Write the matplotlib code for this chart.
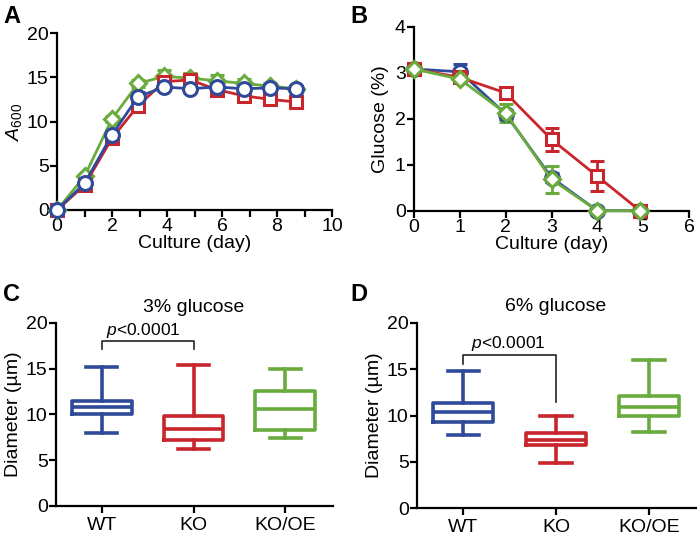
import numpy as np
import matplotlib
matplotlib.use('Agg')
import matplotlib.pyplot as plt

plt.rcParams['font.family'] = ['Liberation Sans', 'DejaVu Sans']
plt.rcParams['mathtext.fontset'] = 'custom'
plt.rcParams['mathtext.rm'] = 'Liberation Sans'
plt.rcParams['mathtext.it'] = 'Liberation Sans:italic'
plt.rcParams['font.size'] = 14

blue = '#2f4a98'
red = '#c8262c'
green = '#6aab3e'

# panel A: growth (A600)
days_a = [0, 1, 2, 2.95, 3.9, 4.85, 5.8, 6.8, 7.75, 8.7]
wt_a = [0, 3.0, 8.5, 12.8, 13.9, 13.7, 13.9, 13.7, 13.8, 13.7]
ko_a = [0, 2.8, 8.1, 11.8, 14.5, 14.7, 13.6, 12.9, 12.5, 12.2]
oe_a = [0, 3.8, 10.3, 14.3, 15.1, 14.9, 14.6, 14.3, 14.0, 13.7]
wt_a_err = [0, 0.3, 0.5, 0.5, 0.3, 0.3, 0.3, 0.3, 0.3, 0.3]
ko_a_err = [0, 0.3, 0.4, 0.4, 0.4, 0.4, 0.3, 0.3, 0.3, 0.3]
oe_a_err = [0, 0.3, 0.3, 0.4, 0.7, 0.6, 0.6, 0.5, 0.4, 0.3]

# panel B: glucose (%)
days_b = [0, 1, 2, 3, 4, 4.93]
wt_b = [3.08, 3.02, 2.10, 0.72, 0.0, 0.0]
ko_b = [3.08, 2.90, 2.56, 1.55, 0.75, 0.0]
oe_b = [3.08, 2.86, 2.12, 0.68, 0.0, 0.0]
wt_b_err = [0.05, 0.18, 0.1, 0.1, 0, 0]
ko_b_err = [0.05, 0.08, 0.08, 0.25, 0.32, 0]
oe_b_err = [0.05, 0.05, 0.2, 0.3, 0, 0]

# panels C/D: diameter boxes (whislo, q1, med, q3, whishi)
groups = ['WT', 'KO', 'KO/OE']
box_c = [[8.0, 10.0, 10.8, 11.45, 15.2],
         [6.2, 7.2, 8.4, 9.85, 15.4],
         [7.45, 8.3, 10.55, 12.5, 14.9]]
box_d = [[7.95, 9.3, 10.4, 11.4, 14.8],
         [4.85, 6.8, 7.35, 8.1, 9.95],
         [8.2, 10.0, 10.95, 12.15, 16.0]]

W, H = 697, 535
fig = plt.figure(figsize=(W / 100, H / 100), dpi=100)


def px_axes(l, t, r, b):
    return fig.add_axes([l / W, 1 - b / H, (r - l) / W, (b - t) / H])


def style(ax):
    for s in ['top', 'right']:
        ax.spines[s].set_visible(False)
    for s in ['left', 'bottom']:
        ax.spines[s].set_linewidth(1.6)
    ax.tick_params(width=1.6, length=5, direction='out', pad=1, labelsize=14)
    ax.tick_params(which='minor', width=1.6, length=5, direction='out')


def marker_size(m):
    return {'o': 10, 's': 9, 'D': 8.5}[m]


axA = px_axes(57, 33, 332, 210)
series = [(oe_a, oe_a_err, green, 'D'), (ko_a, ko_a_err, red, 's'), (wt_a, wt_a_err, blue, 'o')]
for y, e, c, m in series:
    axA.errorbar(days_a, y, yerr=e, color=c, lw=2, capsize=5, capthick=2, elinewidth=2,
                 marker=m, ms=marker_size(m), mfc='white', mec=c, mew=2.2, clip_on=False, zorder=3)
axA.set_xlim(0, 10)
axA.set_ylim(0, 20)
axA.set_xticks([0, 2, 4, 6, 8, 10])
axA.set_xticks(np.arange(1, 10, 2), minor=True)
axA.set_yticks([0, 5, 10, 15, 20])
axA.set_xlabel('Culture (day)', labelpad=0)
axA.set_ylabel(r'$\mathit{A}_{600}$', labelpad=2)
style(axA)

axB = px_axes(414, 26.7, 689, 210.7)
series = [(wt_b, wt_b_err, blue, 'o'), (ko_b, ko_b_err, red, 's'), (oe_b, oe_b_err, green, 'D')]
for y, e, c, m in series:
    axB.errorbar(days_b, y, yerr=e, color=c, lw=2, capsize=5, capthick=2, elinewidth=2,
                 marker=m, ms=marker_size(m), mfc='white', mec=c, mew=2.2, clip_on=False, zorder=3)
axB.set_xlim(0, 6)
axB.set_ylim(0, 4)
axB.set_xticks(range(7))
axB.set_yticks(range(5))
axB.set_xlabel('Culture (day)', labelpad=0)
axB.set_ylabel('Glucose (%)', labelpad=4)
style(axB)


def box_panel(ax, data, title, p_x, p_y, bar_y, left_tip, right_tip):
    colors = [blue, red, green]
    stats = []
    for g, d in zip(groups, data):
        stats.append(dict(label=g, whislo=d[0], q1=d[1], med=d[2], q3=d[3], whishi=d[4], fliers=[]))
    bp = ax.bxp(stats, positions=[1, 2, 3], widths=0.65, showfliers=False, patch_artist=False)
    for i, c in enumerate(colors):
        for key in ['boxes', 'medians']:
            bp[key][i].set(color=c, lw=2.6)
        for key in ['whiskers', 'caps']:
            for art in bp[key][2 * i:2 * i + 2]:
                art.set(color=c, lw=2.6)
    for cap in bp['caps']:
        xd = cap.get_xdata()
        mid = (xd[0] + xd[1]) / 2
        cap.set_xdata([mid - 0.17, mid + 0.17])
    ax.set_xlim(0.5, 3.52)
    ax.set_ylim(0, 20)
    ax.set_yticks([0, 5, 10, 15, 20])
    ax.set_ylabel('Diameter (µm)', labelpad=3)
    style(ax)
    ax.tick_params(axis='x', pad=3)
    ax.text(2, 21.7, title, ha='center', va='center', fontsize=14)
    ax.plot([1, 1, 2, 2], [left_tip, bar_y, bar_y, right_tip], color='#222222', lw=1.2, clip_on=False)
    ax.text(p_x, p_y, r'$\mathit{p}$<0.0001', ha='center', va='center', fontsize=12.5)


axC = px_axes(56, 322.7, 333, 506)
box_panel(axC, box_c, '3% glucose', 1.45, 19.1, 18.0, 17.1, 17.1)

axD = px_axes(417, 322.7, 697, 508.3)
box_panel(axD, box_d, '6% glucose', 1.48, 17.8, 16.55, 15.5, 11.5)

for lab, x, y in [('A', 3, 5), ('B', 350, 5), ('C', 3, 283), ('D', 350, 283)]:
    fig.text(x / W, 1 - y / H, lab, fontsize=17, fontweight='bold', ha='left', va='top')

fig.savefig('out.png', dpi=100)
